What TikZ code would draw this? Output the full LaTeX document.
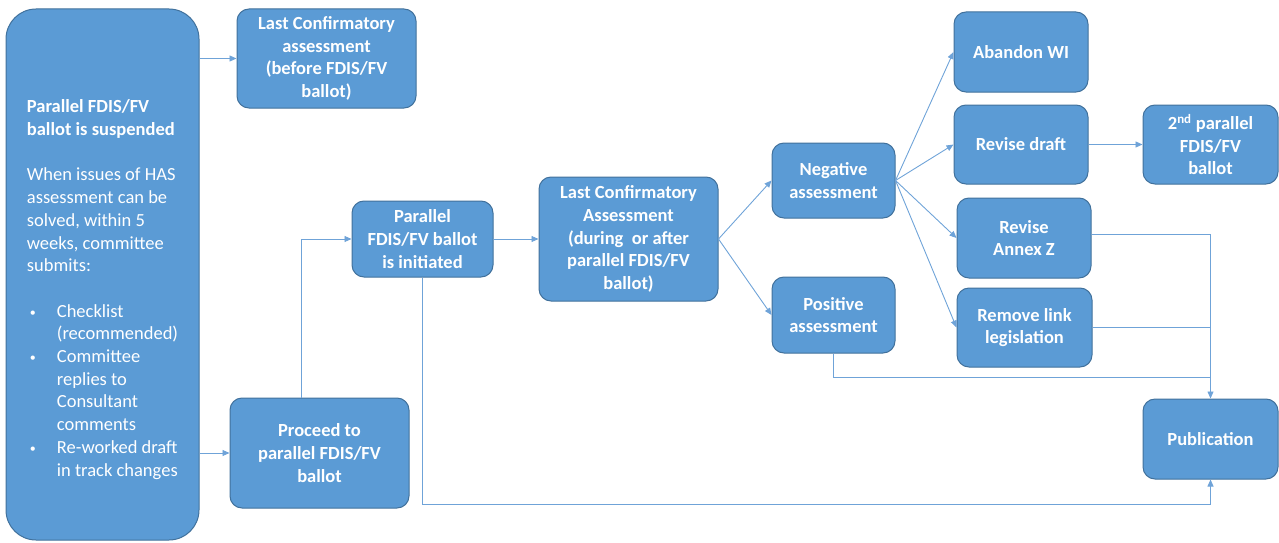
\documentclass[tikz,border=0pt]{standalone}
\usepackage{fontspec}
\setmainfont{Carlito}
\usetikzlibrary{calc,arrows.meta}
\definecolor{boxblue}{HTML}{5B9BD5}
\definecolor{boxedge}{HTML}{41719C}
\definecolor{linkblue}{HTML}{6FA3D8}
\newcommand{\bul}{\makebox[30pt][l]{\hspace{3pt}\raisebox{1pt}{\fontsize{12}{12}\selectfont\textbullet}}}

\begin{document}
\begin{tikzpicture}[x=1pt,y=-1pt,
    box/.style={draw=boxedge, line width=1pt, fill=boxblue, rounded corners=12pt, text=white,
        font=\fontsize{18.5}{22.7}\selectfont\bfseries, align=center, inner sep=0pt},
    link/.style={draw=linkblue, line width=0.9pt},
    flow/.style={link, -{Triangle[length=7pt,width=6pt]}}]
\useasboundingbox (0,0) rectangle (1279,543);

\node[box, rounded corners=30pt, minimum width=193pt, minimum height=531pt,
      align=left, font=\fontsize{18.5}{22.7}\selectfont] (susp) at (102.5,274.5)
    {\rule{0pt}{43pt}\textbf{Parallel FDIS/FV}\\ \textbf{ballot is suspended}\\[22.7pt]
     When issues of HAS\\ assessment can be\\ solved, within 5\\ weeks, committee\\ submits:\\[22.7pt]
     \bul Checklist\\ \hspace*{30pt}(recommended)\\
     \bul Committee\\ \hspace*{30pt}replies to\\
     \hspace*{30pt}Consultant\\ \hspace*{30pt}comments\\
     \bul Re-worked draft\\ \hspace*{30pt}in track changes};
\node[box, minimum width=179pt, minimum height=99pt] (lcaBefore) at (326.5,58.5)
    {Last Confirmatory\\ assessment\\ (before FDIS/FV\\ ballot)};
\node[box, minimum width=179pt, minimum height=110pt] (proceed) at (319.5,453)
    {Proceed to\\ parallel FDIS/FV\\ ballot};
\node[box, minimum width=141pt, minimum height=76pt] (par) at (422.5,239)
    {Parallel\\ FDIS/FV ballot\\ is initiated};
\node[box, minimum width=179pt, minimum height=124pt] (lcaDuring) at (628.5,239)
    {Last Confirmatory\\ Assessment\\ (during~ or after\\ parallel FDIS/FV\\ ballot)};
\node[box, minimum width=123pt, minimum height=75pt] (neg) at (833.5,180.5) {Negative\\ assessment};
\node[box, minimum width=123pt, minimum height=76pt] (pos) at (833.5,315) {Positive\\ assessment};
\node[box, minimum width=134pt, minimum height=80pt] (abandon) at (1021,52) {Abandon WI};
\node[box, minimum width=134pt, minimum height=79pt] (revDraft) at (1021,144.5) {Revise draft};
\node[box, minimum width=135pt, minimum height=79pt] (second) at (1210.5,144.5)
    {2\textsuperscript{nd} parallel\\ FDIS/FV\\ ballot};
\node[box, minimum width=134pt, minimum height=80pt] (annexZ) at (1024,238) {Revise\\ Annex Z};
\node[box, minimum width=135pt, minimum height=79pt] (removeLink) at (1024.5,327.5) {Remove link\\ legislation};
\node[box, minimum width=135pt, minimum height=80pt] (pub) at (1210.5,439) {Publication};

\coordinate (busPos) at (833.5,377);
\coordinate (busLow) at (422.5,504);

\draw[flow] (susp.east |- lcaBefore.west) -- (lcaBefore.west);
\draw[flow] (susp.east |- proceed.west) -- (proceed.west);
\draw[flow] ([xshift=-18.5pt]proceed.north) |- (par.west);
\draw[flow] (par.east) -- (lcaDuring.west);
\draw[flow] (lcaDuring.east) -- (neg.west);
\draw[flow] (lcaDuring.east) -- (pos.west);
\foreach \t in {abandon,revDraft,annexZ,removeLink}
    \draw[flow] (neg.east) -- (\t.west);
\draw[flow] (revDraft.east) -- (second.west);
\draw[flow] ([yshift=4pt]annexZ.east) -| (pub.north);
\draw[link] (removeLink.east) -- (removeLink.east -| pub.north);
\draw[link] (pos.south) |- (busPos -| pub.north);
\draw[flow] (par.south) -- (busLow) -| (pub.south);
\end{tikzpicture}
\end{document}
